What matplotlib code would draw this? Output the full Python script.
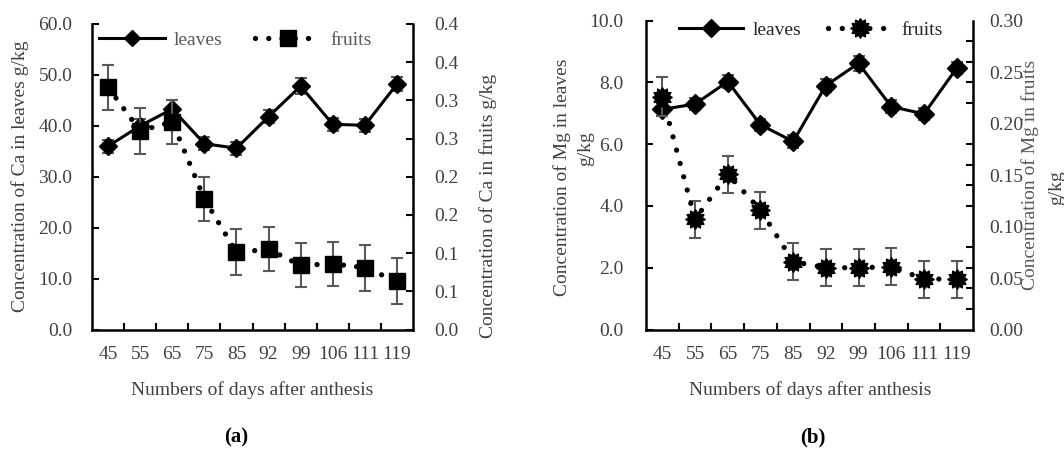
import numpy as np
import matplotlib.pyplot as plt
from matplotlib.lines import Line2D
from matplotlib.path import Path

plt.rcParams['font.family'] = ['Liberation Serif', 'DejaVu Serif']

W, H = 1064, 450

days = ["45", "55", "65", "75", "85", "92", "99", "106", "111", "119"]

# (a) Ca, g/kg
ca_leaves = [36.0, 40.0, 43.3, 36.5, 35.6, 41.8, 47.8, 40.3, 40.1, 48.2]
ca_leaves_err = [1.3, 1.4, 1.8, 1.3, 1.3, 1.3, 1.5, 1.3, 1.3, 1.3]
ca_fruits = [0.317, 0.260, 0.272, 0.171, 0.101, 0.105, 0.084, 0.086, 0.081, 0.063]
ca_fruits_err = [0.029, 0.030, 0.029, 0.029, 0.030, 0.029, 0.029, 0.029, 0.030, 0.030]
ca_right_labels = ["0.0", "0.1", "0.1", "0.2", "0.2", "0.3", "0.3", "0.4", "0.4"]

# (b) Mg, g/kg
mg_leaves = [7.13, 7.30, 8.03, 6.63, 6.09, 7.90, 8.62, 7.22, 6.98, 8.46]
mg_leaves_err = [0.2, 0.2, 0.22, 0.2, 0.2, 0.22, 0.25, 0.2, 0.2, 0.2]
mg_fruits = [0.226, 0.107, 0.151, 0.116, 0.066, 0.060, 0.060, 0.061, 0.049, 0.049]
mg_fruits_err = [0.019, 0.018, 0.018, 0.018, 0.018, 0.018, 0.018, 0.018, 0.018, 0.018]

txt = '#404040'
ecol = '#595959'
# jagged blob marker like the excel star in (b)
blob = Path.unit_regular_star(12, innerCircle=0.72)

fig = plt.figure(figsize=(W / 100, H / 100), dpi=100)


def px(x0, y0, x1, y1):
    return [x0 / W, 1 - y1 / H, (x1 - x0) / W, (y1 - y0) / H]


def style_axes(ax, ax2):
    x = np.arange(len(days))
    ax.set_xlim(-0.5, len(days) - 0.5)
    ax.set_xticks(x)
    ax.set_xticklabels(days)
    ax.set_xticks(x[:-1] + 0.5, minor=True)
    ax.tick_params(axis='x', which='major', length=0, pad=12, labelsize=14, labelcolor=txt)
    ax.tick_params(axis='x', which='minor', direction='in', length=5, width=1.5)
    for a in (ax, ax2):
        for s in a.spines.values():
            s.set_linewidth(1.8)
        a.spines['top'].set_visible(False)
    ax.spines['right'].set_visible(False)
    ax2.spines['left'].set_visible(False)
    ax2.spines['bottom'].set_visible(False)


def draw(ax, ax2, leaves, leaves_err, fruits, fruits_err, dms, fmark, fms, dash):
    x = np.arange(len(days))
    ax.errorbar(x, leaves, yerr=leaves_err, color='black', lw=2.2, marker='D', ms=dms,
                ecolor=ecol, elinewidth=1.5, capsize=4, capthick=1.5, zorder=3)
    ax2.errorbar(x, fruits, yerr=fruits_err, color='black', lw=3.8,
                 linestyle=(0, (0.01, dash)), dash_capstyle='round',
                 marker=fmark, ms=fms, ecolor=ecol, elinewidth=1.5, capsize=4,
                 capthick=1.5, zorder=3)


# ---------- panel (a) ----------
ax = fig.add_axes(px(92, 24, 413, 329.5))
ax2 = ax.twinx()
style_axes(ax, ax2)
draw(ax, ax2, ca_leaves, ca_leaves_err, ca_fruits, ca_fruits_err, 9, 's', 11, 2.5)
ax.set_ylim(0, 60)
ax.set_yticks(np.arange(0, 61, 10))
ax.set_yticklabels([f"{v:.1f}" for v in np.arange(0, 61, 10)])
ax.tick_params(axis='y', direction='in', length=5, width=1.5, pad=14, labelsize=14, labelcolor=txt)
ax2.set_ylim(0, 0.4)
ax2.set_yticks(np.linspace(0, 0.4, 9))
ax2.set_yticklabels(ca_right_labels)
ax2.tick_params(axis='y', direction='in', length=5, width=1.5, pad=15, labelsize=14, labelcolor=txt)

h_leaf = Line2D([], [], color='black', lw=2.2, marker='D', ms=8)
h_fruit = Line2D([], [], color='black', lw=3.8, linestyle=(0, (0.01, 2.5)),
                 dash_capstyle='round', marker='s', ms=12)
ax2.legend([h_leaf, h_fruit], ["leaves", "fruits"], loc='center', ncol=2, frameon=False,
           bbox_to_anchor=(235 / W, 1 - 40 / H), bbox_transform=fig.transFigure,
           fontsize=14, labelcolor='#595959', handlelength=3.4, handletextpad=0.45,
           columnspacing=1.7, numpoints=1)

fig.text(20 / W, 1 - 176 / H, "Concentration of Ca in leaves g/kg", rotation=90,
         ha='center', va='center', fontsize=14, color=txt)
fig.text(488 / W, 1 - 206 / H, "Concentration of Ca in fruits g/kg", rotation=90,
         ha='center', va='center', fontsize=14, color=txt)
fig.text(252 / W, 1 - 390 / H, "Numbers of days after anthesis", ha='center', va='center',
         fontsize=14, color=txt)
fig.text(236 / W, 1 - 437 / H, "(a)", ha='center', va='center', fontsize=15,
         fontweight='bold', color='black')

# ---------- panel (b) ----------
bx = fig.add_axes(px(646, 20.7, 973, 329.5))
bx2 = bx.twinx()
style_axes(bx, bx2)
draw(bx, bx2, mg_leaves, mg_leaves_err, mg_fruits, mg_fruits_err, 10, blob, 14, 2.6)
bx.set_ylim(0, 10)
bx.set_yticks(np.arange(0, 11, 2))
bx.set_yticklabels([f"{v:.1f}" for v in np.arange(0, 11, 2)])
bx.tick_params(axis='y', direction='in', length=5, width=1.5, pad=16, labelsize=14, labelcolor=txt)
bx2.set_ylim(0, 0.30)
bx2.set_yticks(np.arange(0, 0.301, 0.05))
bx2.set_yticklabels([f"{v:.2f}" for v in np.arange(0, 0.301, 0.05)])
bx2.set_yticks(np.arange(0, 0.301, 0.02), minor=True)
bx2.tick_params(axis='y', which='major', length=0, pad=12, labelsize=14, labelcolor=txt)
bx2.tick_params(axis='y', which='minor', direction='in', length=5, width=1.5)

h_leaf = Line2D([], [], color='black', lw=2.2, marker='D', ms=9)
h_fruit = Line2D([], [], color='black', lw=3.8, linestyle=(0, (0.01, 2.6)),
                 dash_capstyle='round', marker=blob, ms=14)
bx2.legend([h_leaf, h_fruit], ["leaves", "fruits"], loc='center', ncol=2, frameon=False,
           bbox_to_anchor=(811 / W, 1 - 30 / H), bbox_transform=fig.transFigure,
           fontsize=14, labelcolor='#262626', handlelength=3.25, handletextpad=0.5,
           columnspacing=1.4, numpoints=1)

fig.text(562 / W, 1 - 177 / H, "Concentration of Mg in leaves", rotation=90,
         ha='center', va='center', fontsize=14, color=txt)
fig.text(586 / W, 1 - 149 / H, "g/kg", rotation=90,
         ha='center', va='center', fontsize=14, color=txt)
fig.text(1030 / W, 1 - 175 / H, "Concentration of Mg in fruits", rotation=90,
         ha='center', va='center', fontsize=14, color='#595959')
fig.text(1057 / W, 1 - 188 / H, "g/kg", rotation=90,
         ha='center', va='center', fontsize=14, color=txt)
fig.text(810 / W, 1 - 390 / H, "Numbers of days after anthesis", ha='center', va='center',
         fontsize=14, color=txt)
fig.text(813 / W, 1 - 437 / H, "(b)", ha='center', va='center', fontsize=15,
         fontweight='bold', color='black')

fig.savefig("out.png", dpi=100)
